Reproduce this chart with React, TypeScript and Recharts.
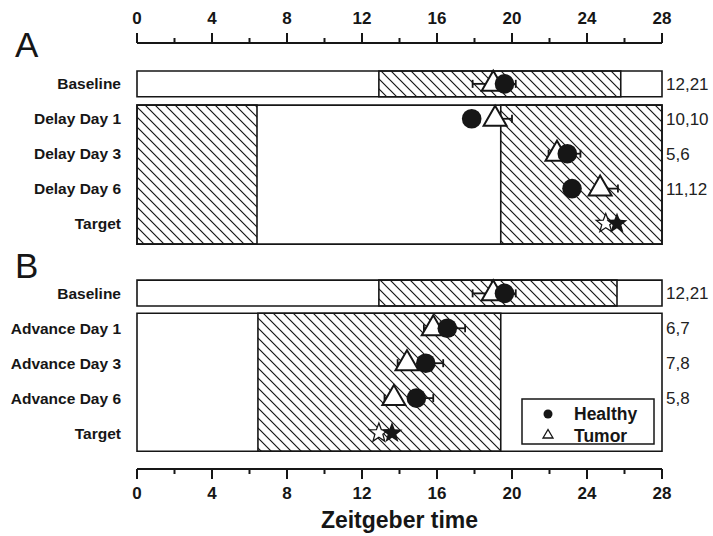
import React from 'react'
import { ScatterChart, Scatter, XAxis, YAxis, ReferenceArea, ErrorBar, Legend } from 'recharts'

// row labels (top to bottom), y position of each row on the row axis
const rowLabels = [
  'Baseline', 'Delay Day 1', 'Delay Day 3', 'Delay Day 6', 'Target',
  'Baseline', 'Advance Day 1', 'Advance Day 3', 'Advance Day 6', 'Target',
]
const rowPos = [0, 1, 2, 3, 4, 6, 7, 8, 9, 10]
const groupSizes = ['12,21', '10,10', '5,6', '11,12', '', '12,21', '6,7', '7,8', '5,8', '']

// measured phases (ZT) for the non-target rows
const measuredRows = [0, 1, 2, 3, 6, 7, 8, 9]
const healthyPhase = [19.6, 17.85, 22.95, 23.2, 19.6, 16.55, 15.4, 14.9]
const healthyErr = [[0, 0.6], [0.3, 0], [0, 0.7], [0.3, 0], [0, 0.6], [0, 0.95], [0, 0.93], [0, 0.9]]
const tumorPhase = [19.0, 19.1, 22.4, 24.7, 19.0, 15.8, 14.4, 13.7]
const tumorErr = [[1.1, 0], [0, 0.9], [0.45, 0], [0, 0.95], [1.1, 0], [0.5, 0], [0.5, 0], [0.5, 0]]

// target phases
const targetRows = [4, 10]
const targetHealthy = [25.6, 13.6]
const targetTumor = [25.0, 12.9]

// dark phases of each light schedule
const baselineDarkA = [12.9, 25.8]
const delayDark = [[0, 6.4], [19.4, 28]]
const baselineDarkB = [12.9, 25.6]
const advanceDark = [[6.45, 19.4]]

const xTicks = [0, 2, 4, 6, 8, 10, 12, 14, 16, 18, 20, 22, 24, 26, 28]
const rightRows = [0, 1, 2, 3, 6, 7, 8, 9]

const INK = '#161616'
const FONT = '"Liberation Sans", Arial, sans-serif'
const Y_DOMAIN = [-1.17, 11.03]

const healthyData = measuredRows.map((r, i) => ({ x: healthyPhase[i], y: r, err: healthyErr[i] }))
const tumorData = measuredRows.map((r, i) => ({ x: tumorPhase[i], y: r, err: tumorErr[i] }))
const targetHealthyData = targetRows.map((r, i) => ({ x: targetHealthy[i], y: r }))
const targetTumorData = targetRows.map((r, i) => ({ x: targetTumor[i], y: r }))

// vertical extent of each box, in row units
const boxes = [
  { y1: -0.37, y2: 0.37, dark: [baselineDarkA] },
  { y1: 0.61, y2: 4.59, dark: delayDark },
  { y1: 5.62, y2: 6.36, dark: [baselineDarkB] },
  { y1: 6.57, y2: 10.52, dark: advanceDark },
]

const labelFor = (v: number) => rowLabels[rowPos.indexOf(v)] ?? ''
const sizeFor = (v: number) => groupSizes[rowPos.indexOf(v)] ?? ''

const TopTick = (props: any) => {
  const { x, y, payload } = props
  const major = payload.value % 4 === 0
  return (
    <g>
      <line x1={x} x2={x} y1={y} y2={y - (major ? 10 : 5)} stroke={INK} strokeWidth={2} />
      {major && (
        <text x={x} y={y - 19} textAnchor='middle' fontSize={17} fontWeight={700} fill={INK}>
          {payload.value}
        </text>
      )}
    </g>
  )
}

const BottomTick = (props: any) => {
  const { x, y, payload } = props
  const major = payload.value % 4 === 0
  return (
    <g>
      <line x1={x} x2={x} y1={y} y2={y + (major ? 10 : 5)} stroke={INK} strokeWidth={2} />
      {major && (
        <text x={x} y={y + 30} textAnchor='middle' fontSize={17} fontWeight={700} fill={INK}>
          {payload.value}
        </text>
      )}
    </g>
  )
}

const starPoints = (cx: number, cy: number, R: number, r: number) =>
  Array.from({ length: 10 }, (_, i) => {
    const a = -Math.PI / 2 + (i * Math.PI) / 5
    const rad = i % 2 === 0 ? R : r
    return `${cx + rad * Math.cos(a)},${cy + rad * Math.sin(a)}`
  }).join(' ')

const Circle = (p: any) => <circle cx={p.cx} cy={p.cy} r={9.8} fill={INK} />
const Triangle = (p: any) => (
  <polygon
    points={`${p.cx},${p.cy - 13} ${p.cx - 11.5},${p.cy + 7} ${p.cx + 11.5},${p.cy + 7}`}
    fill='#fff'
    stroke={INK}
    strokeWidth={2}
  />
)
const FilledStar = (p: any) => <polygon points={starPoints(p.cx, p.cy, 11, 4.6)} fill={INK} />
const OpenStar = (p: any) => (
  <polygon points={starPoints(p.cx, p.cy, 10, 4.2)} fill='#fff' stroke={INK} strokeWidth={1.3} />
)

const LegendBox = () => (
  <svg width={134} height={47} style={{ display: 'block' }}>
    <rect x={1} y={1} width={132} height={45} fill='#fff' stroke={INK} strokeWidth={1.5} />
    <circle cx={27} cy={16} r={4.5} fill={INK} />
    <text x={53} y={22} fontSize={17.5} fontWeight={700} fill={INK}>Healthy</text>
    <polygon points='27,31.5 22,40 32,40' fill='#fff' stroke={INK} strokeWidth={1.3} />
    <text x={53} y={43.5} fontSize={17.5} fontWeight={700} fill={INK}>Tumor</text>
  </svg>
)

export default function App() {
  return (
    <div style={{ position: 'absolute', left: 0, top: 0, fontFamily: FONT }}>
      <ScatterChart width={713} height={536} margin={{ top: 0, right: 0, bottom: 0, left: 0 }}>
        <defs>
          <pattern id='hatch' patternUnits='userSpaceOnUse' width={10} height={10}>
            <path d='M-1,-1 L11,11 M-1,9 L1,11 M9,-1 L11,1' stroke={INK} strokeWidth={1.2} />
          </pattern>
        </defs>
        <text x={15} y={57} fontSize={35} fill={INK}>A</text>
        <text x={15} y={278} fontSize={35} fill={INK}>B</text>
        <XAxis
          xAxisId='top'
          dataKey='x'
          orientation='top'
          type='number'
          domain={[0, 28]}
          ticks={xTicks}
          interval={0}
          height={43}
          tickSize={0}
          tickMargin={0}
          tickLine={false}
          axisLine={{ stroke: INK, strokeWidth: 2 }}
          tick={<TopTick />}
        />
        <XAxis
          xAxisId='bottom'
          dataKey='x'
          type='number'
          domain={[0, 28]}
          ticks={xTicks}
          interval={0}
          height={67}
          tickSize={0}
          tickMargin={0}
          tickLine={false}
          axisLine={{ stroke: INK, strokeWidth: 2 }}
          tick={<BottomTick />}
          label={{
            value: 'Zeitgeber time',
            position: 'insideBottom',
            offset: 8,
            fontSize: 23,
            fontWeight: 700,
            fill: INK,
          }}
        />
        <YAxis
          yAxisId='left'
          dataKey='y'
          type='number'
          reversed
          domain={Y_DOMAIN}
          ticks={rowPos}
          interval={0}
          width={137}
          tickSize={0}
          tickMargin={16}
          tickLine={false}
          axisLine={false}
          tickFormatter={labelFor}
          tick={{ fontSize: 15.5, fontWeight: 700, fill: INK }}
        />
        <YAxis
          yAxisId='right'
          dataKey='y'
          orientation='right'
          type='number'
          reversed
          domain={Y_DOMAIN}
          ticks={rightRows}
          interval={0}
          width={51}
          tickSize={0}
          tickMargin={4}
          tickLine={false}
          axisLine={false}
          tickFormatter={sizeFor}
          tick={{ fontSize: 17, fill: '#222' }}
        />
        {boxes.map((b, i) => (
          <ReferenceArea
            key={`box-${i}`}
            xAxisId='bottom'
            yAxisId='left'
            x1={0}
            x2={28}
            y1={b.y1}
            y2={b.y2}
            fill='#fff'
            fillOpacity={1}
            stroke={INK}
            strokeWidth={1.6}
          />
        ))}
        {boxes.flatMap((b, i) =>
          b.dark.map((d, j) => (
            <ReferenceArea
              key={`dark-${i}-${j}`}
              xAxisId='bottom'
              yAxisId='left'
              x1={d[0]}
              x2={d[1]}
              y1={b.y1}
              y2={b.y2}
              fill='url(#hatch)'
              fillOpacity={1}
              stroke={INK}
              strokeWidth={1.6}
            />
          ))
        )}
        <Scatter
          name='Tumor'
          data={tumorData}
          xAxisId='bottom'
          yAxisId='left'
          shape={Triangle}
          isAnimationActive={false}
        >
          <ErrorBar dataKey='err' direction='x' width={4} stroke={INK} strokeWidth={1.8} />
        </Scatter>
        <Scatter
          name='Healthy'
          data={healthyData}
          xAxisId='bottom'
          yAxisId='left'
          shape={Circle}
          isAnimationActive={false}
        >
          <ErrorBar dataKey='err' direction='x' width={4} stroke={INK} strokeWidth={1.8} />
        </Scatter>
        <Scatter
          name='Target tumor'
          data={targetTumorData}
          xAxisId='top'
          yAxisId='right'
          shape={OpenStar}
          isAnimationActive={false}
        />
        <Scatter
          name='Target healthy'
          data={targetHealthyData}
          xAxisId='top'
          yAxisId='right'
          shape={FilledStar}
          isAnimationActive={false}
        />
        <Legend
          layout='vertical'
          align='center'
          verticalAlign='middle'
          wrapperStyle={{ left: 521, top: 398, width: 134, height: 47 }}
          content={() => <LegendBox />}
        />
      </ScatterChart>
    </div>
  )
}
